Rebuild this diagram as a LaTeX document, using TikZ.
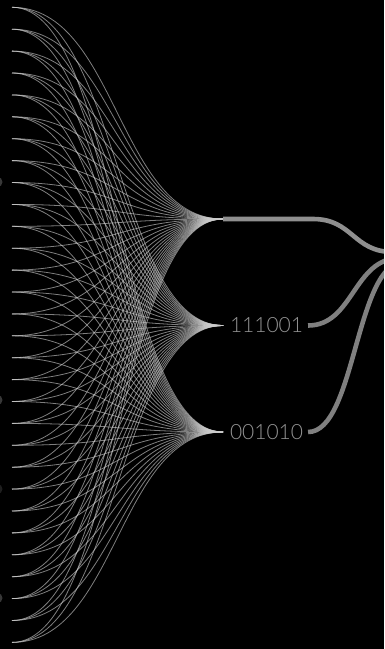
\documentclass[tikz,border=0pt]{standalone}
\usepackage{fontspec}
\usepackage{tikz}
\usepackage{xcolor}
\newfontfamily\bitsfont{Lato Light}[Numbers=Monospaced]

\begin{document}
\begin{tikzpicture}[x=1pt, y=-1pt,
			 hilo/.style={draw=white!80!black, opacity=0.62, line width=0.8pt},
			 salida/.style={draw=white!50!black, line width=4.6pt},
			 bits/.style={anchor=west, text=white!58!black, inner sep=2pt, outer sep=3pt,
			              font=\bitsfont\fontsize{21}{21}\selectfont}
  		]
	\fill[black] (0,0) rectangle (384,649);
	\useasboundingbox (0,0) rectangle (384,649);
	\clip (0,0) rectangle (384,649);

	%Circulos cortados en el borde
		\fill[white!22!black] (-2.5,182) circle (5);
		\fill[white!22!black] (-2.5,400) circle (5);
		\fill[white!12!black] (-2.5,489) circle (5);
		\fill[white!22!black] (-2.5,598) circle (5);

	%Creamos las entradas
		\foreach \i in {0,...,29}
			\coordinate (e\i) at (12, 7.3+21.9*\i);
		\coordinate (mid) at (117.5,0);
	%Puntos donde se juntan
		\coordinate (c1) at (223,219);
		\coordinate (c2) at (223,325.5);
		\coordinate (c3) at (223,432);

	%Curvas de cada entrada a cada punto
		\foreach \i in {0,...,29}
			\foreach \j in {1,2,3}
				\draw[hilo] (e\i) .. controls (e\i -| mid) and (c\j -| mid) .. (c\j);

	%Textos
		\node[bits] (n2) at (225,325.5) {111001};
		\node[bits] (n3) at (225,432) {001010};

	%Salidas hacia la derecha
		\coordinate (q1) at (313,219);
		\coordinate (s1) at (393,252);
		\coordinate (m1) at (353,0);
		\coordinate (s2) at (400,258);
		\coordinate (m2) at (353.5,0);
		\coordinate (s3) at (404,262);
		\coordinate (m3) at (355.5,0);
		\draw[salida, draw=white!56!black] (c1) -- (q1) .. controls (q1 -| m1) and (s1 -| m1) .. (s1);
		\draw[salida] (n2.east) .. controls (n2.east -| m2) and (s2 -| m2) .. (s2);
		\draw[salida] (n3.east) .. controls (n3.east -| m3) and (s3 -| m3) .. (s3);
	\end{tikzpicture}
\end{document}
